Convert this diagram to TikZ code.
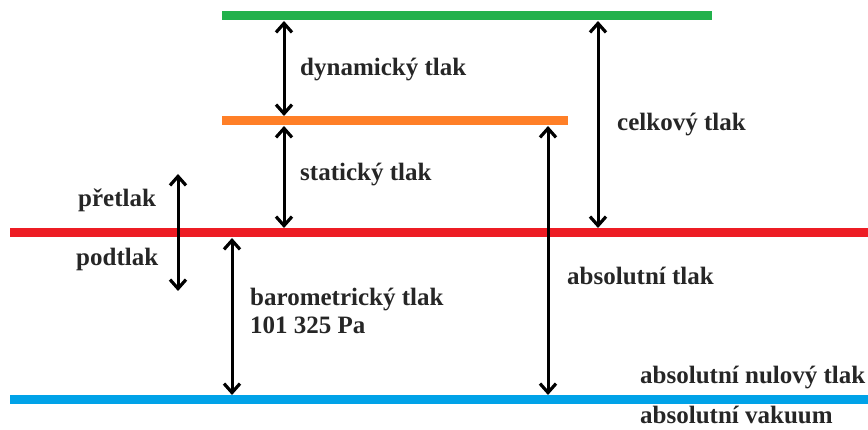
\documentclass[tikz,border=0pt]{standalone}
\usepackage{fontspec}
\setmainfont{Liberation Serif}[BoldFont={Liberation Serif Bold}]
\usetikzlibrary{arrows.meta}
\definecolor{lgreen}{RGB}{34,177,76}
\definecolor{lorange}{RGB}{255,127,39}
\definecolor{lred}{RGB}{237,28,36}
\definecolor{lblue}{RGB}{0,162,232}
\tikzset{
  level/.style={line width=9pt},
  darrow/.style={line width=3pt,{Straight Barb[length=9pt,width=16pt,line width=3.2pt]}-{Straight Barb[length=9pt,width=16pt,line width=3.2pt]}},
  lbl/.style={anchor=mid west,inner sep=0pt,font=\rmfamily\bfseries\fontsize{25}{30}\selectfont,text=black!85}
}
\begin{document}
\begin{tikzpicture}[x=1pt,y=-1pt]
\useasboundingbox (0,0) rectangle (868,430);
% level lines
\coordinate (g1) at (222,16); \coordinate (g2) at (712,16);
\coordinate (o1) at (222,121); \coordinate (o2) at (568,121);
\coordinate (r1) at (10,233); \coordinate (r2) at (868,233);
\coordinate (b1) at (10,400); \coordinate (b2) at (868,400);
\draw[level,lgreen] (g1) -- (g2);
\draw[level,lorange] (o1) -- (o2);
\draw[level,lred] (r1) -- (r2);
\draw[level,lblue] (b1) -- (b2);
% arrow end points
\coordinate (dynT) at (284,21); \coordinate (dynB) at (284,116);
\coordinate (staT) at (284,126); \coordinate (staB) at (284,228);
\coordinate (celT) at (598,21); \coordinate (celB) at (598,228);
\coordinate (absT) at (548,126); \coordinate (absB) at (548,395);
\coordinate (barT) at (232,238); \coordinate (barB) at (232,395);
\coordinate (prT) at (178,174); \coordinate (prB) at (178,291);
\draw[darrow] (dynT) -- (dynB);
\draw[darrow] (staT) -- (staB);
\draw[darrow] (celT) -- (celB);
\draw[darrow] (absT) -- (absB);
\draw[darrow] (barT) -- (barB);
\draw[darrow] (prT) -- (prB);
% labels
\node[lbl] (ldyn) at (300,73) {dynamický tlak};
\node[lbl] (lsta) at (300,178) {statický tlak};
\node[lbl] (lcel) at (617,128) {celkový tlak};
\node[lbl] (lpre) at (78,204) {přetlak};
\node[lbl] (lpod) at (76,263) {podtlak};
\node[lbl] (lbar) at (250,303) {barometrický tlak};
\node[lbl] (lpa) at (250,331) {101 325 Pa};
\node[lbl] (labs) at (567,282) {absolutní tlak};
\node[lbl] (lnul) at (640,381) {absolutní nulový tlak};
\node[lbl] (lvak) at (640,421) {absolutní vakuum};
\end{tikzpicture}
\end{document}
